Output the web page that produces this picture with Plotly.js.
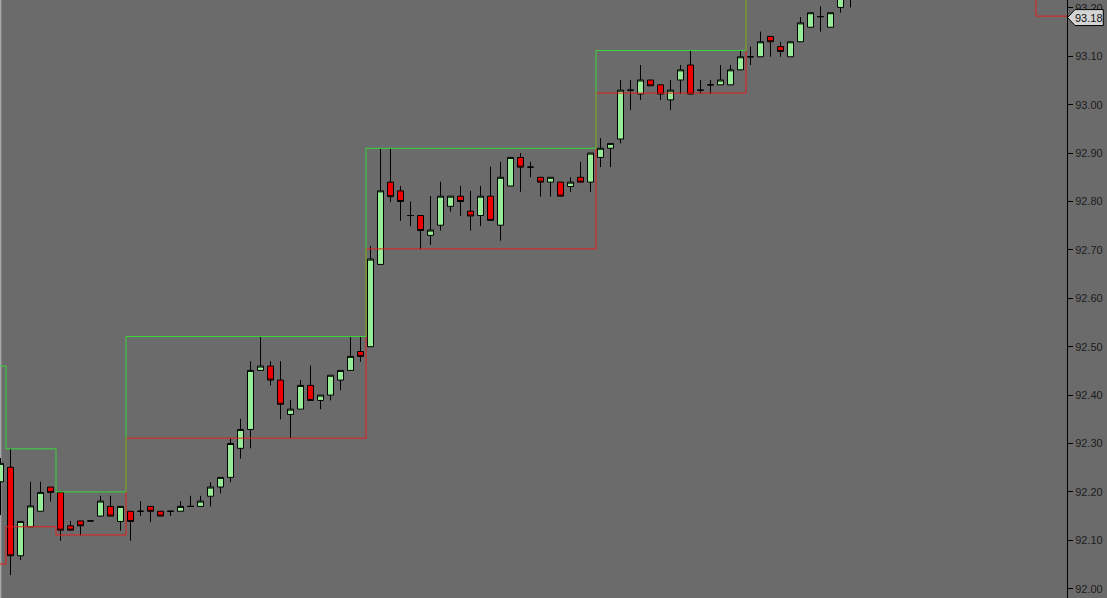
<!DOCTYPE html>
<html>
<head>
<meta charset="utf-8">
<script src="https://cdn.plot.ly/plotly-3.0.1.min.js"></script>
<style>
  html, body { margin: 0; padding: 0; background: #6b6b6b; }
  #chart { width: 1107px; height: 598px; }
</style>
</head>
<body>
<div id="chart"></div>
<script>
// Candle data (bar index, OHLC)
const openP = [92.221,92.251,92.068,92.128,92.160,92.210,92.199,92.130,92.140,92.140,
  92.150,92.170,92.139,92.160,92.160,92.170,92.160,92.160,92.160,92.170,
  92.170,92.191,92.210,92.230,92.290,92.329,92.451,92.460,92.431,92.360,
  92.371,92.420,92.389,92.400,92.431,92.451,92.490,92.500,92.670,92.840,
  92.822,92.771,92.771,92.730,92.751,92.790,92.811,92.780,92.771,92.811,
  92.751,92.832,92.891,92.871,92.850,92.840,92.840,92.831,92.850,92.840,
  92.891,92.910,92.929,93.030,93.022,93.051,93.041,93.010,93.051,93.082,
  93.030,93.041,93.041,93.041,93.072,93.099,93.099,93.141,93.120,93.099,
  93.130,93.160,93.182,93.160,93.201,93.230];
const highP = [92.270,92.290,92.139,92.221,92.221,92.210,92.199,92.140,92.140,92.140,
  92.192,92.192,92.170,92.160,92.181,92.170,92.160,92.160,92.181,92.192,
  92.192,92.220,92.230,92.311,92.351,92.470,92.522,92.470,92.470,92.390,
  92.431,92.461,92.400,92.441,92.451,92.521,92.521,92.708,92.910,92.910,
  92.832,92.800,92.771,92.811,92.841,92.811,92.832,92.822,92.832,92.872,
  92.882,92.891,92.900,92.882,92.850,92.850,92.840,92.850,92.882,92.900,
  92.931,92.920,93.051,93.051,93.082,93.051,93.041,93.051,93.082,93.111,
  93.051,93.051,93.082,93.082,93.112,93.120,93.151,93.141,93.130,93.130,
  93.181,93.190,93.203,93.190,93.230,93.260];
const lowP = [92.152,92.028,92.059,92.128,92.160,92.180,92.099,92.121,92.110,92.140,
  92.150,92.150,92.120,92.099,92.150,92.138,92.150,92.150,92.160,92.170,
  92.170,92.170,92.197,92.220,92.269,92.290,92.451,92.420,92.350,92.311,
  92.371,92.389,92.371,92.389,92.410,92.451,92.469,92.500,92.670,92.799,
  92.760,92.749,92.701,92.710,92.740,92.779,92.770,92.740,92.749,92.761,
  92.719,92.832,92.820,92.850,92.810,92.810,92.811,92.820,92.840,92.820,
  92.871,92.871,92.920,92.989,93.010,93.039,93.010,92.989,93.022,93.022,
  93.022,93.022,93.041,93.041,93.072,93.082,93.099,93.099,93.099,93.099,
  93.130,93.160,93.151,93.160,93.190,93.201];
const closeP = [92.259,92.068,92.139,92.171,92.199,92.199,92.121,92.121,92.130,92.140,
  92.181,92.150,92.170,92.139,92.160,92.160,92.150,92.160,92.170,92.170,
  92.181,92.210,92.230,92.300,92.329,92.451,92.460,92.431,92.381,92.371,
  92.420,92.389,92.400,92.441,92.451,92.480,92.480,92.681,92.822,92.810,
  92.800,92.771,92.740,92.741,92.811,92.811,92.800,92.770,92.811,92.761,
  92.850,92.891,92.871,92.871,92.840,92.850,92.811,92.840,92.840,92.900,
  92.910,92.920,93.030,93.030,93.051,93.039,93.022,93.030,93.072,93.022,
  93.030,93.041,93.051,93.072,93.099,93.099,93.130,93.130,93.110,93.130,
  93.169,93.190,93.182,93.190,93.225,93.250];
const barIndex = openP.map((_, i) => i);

// Range box levels (upper = green, lower = red) and the bar positions where they change
const upperStart = [-1, 0.55, 5.55, 12.55, 36.55, 59.55, 74.55, 107];
const upperLevel = [92.460, 92.289, 92.200, 92.521, 92.910, 93.112, 93.400, 93.400];
const lowerStart = [-1, 0.55, 5.55, 12.55, 36.55, 59.55, 74.55, 103.55, 107];
const lowerLevel = [92.051, 92.128, 92.111, 92.311, 92.702, 93.024, 93.400, 93.183, 93.183];

const lastPrice = 93.18;
const lastPriceLabel = '93.18';

const BG = '#6b6b6b';

const traces = [
  {
    type: 'scatter', mode: 'lines', x: lowerStart, y: lowerLevel,
    line: { shape: 'hv', color: '#e81e1e', width: 1 }, hoverinfo: 'skip', showlegend: false
  },
  {
    type: 'scatter', mode: 'lines', x: upperStart, y: upperLevel,
    line: { shape: 'hv', color: '#3ad83a', width: 1 }, hoverinfo: 'skip', showlegend: false
  },
  {
    type: 'candlestick', x: barIndex, open: openP, high: highP, low: lowP, close: closeP,
    increasing: { line: { color: '#000000', width: 1 }, fillcolor: '#98ec98' },
    decreasing: { line: { color: '#000000', width: 1 }, fillcolor: '#ee0000' },
    whiskerwidth: 0, hoverinfo: 'skip', showlegend: false
  }
];

const layout = {
  width: 1107, height: 598,
  margin: { l: 0, r: 40, t: 0, b: 0, pad: 0 },
  paper_bgcolor: BG, plot_bgcolor: BG,
  showlegend: false, hovermode: false,
  boxgap: 0.4, boxgroupgap: 0,
  xaxis: {
    range: [-0.05, 106.65], visible: false, showgrid: false, zeroline: false,
    rangeslider: { visible: false }, fixedrange: true
  },
  yaxis: {
    range: [91.9808, 93.2163], side: 'right', showgrid: false, zeroline: false,
    showline: true, linecolor: '#000000', linewidth: 1, mirror: false,
    ticks: 'outside', ticklen: 5, tickcolor: '#000000', tickwidth: 1,
    tick0: 92, dtick: 0.1, tickformat: '.2f',
    tickfont: { family: 'Liberation Sans, Arial, sans-serif', size: 11, color: '#1c1c1c' },
    fixedrange: true
  },
  shapes: [
    {
      type: 'line', xref: 'paper', yref: 'paper', x0: 0.0006, x1: 0.0006, y0: 0, y1: 1,
      line: { color: '#a8a8a8', width: 1.5 }, layer: 'below'
    },
    {
      type: 'path', xref: 'paper', yref: 'y', layer: 'above',
      path: 'M 1.0005 ' + lastPrice + ' L 1.0075 ' + (lastPrice + 0.0165) + ' L 1.034 ' + (lastPrice + 0.0165) +
            ' L 1.034 ' + (lastPrice - 0.0165) + ' L 1.0075 ' + (lastPrice - 0.0165) + ' Z',
      fillcolor: '#d4d4d4', line: { color: '#000000', width: 1 }
    }
  ],
  annotations: [
    {
      xref: 'paper', yref: 'y', x: 1.021, y: lastPrice, text: lastPriceLabel, showarrow: false,
      xanchor: 'center', yanchor: 'middle',
      font: { family: 'Liberation Sans, Arial, sans-serif', size: 11, color: '#111111' }
    }
  ]
};

Plotly.newPlot('chart', traces, layout, { displayModeBar: false, staticPlot: true });
</script>
</body>
</html>
